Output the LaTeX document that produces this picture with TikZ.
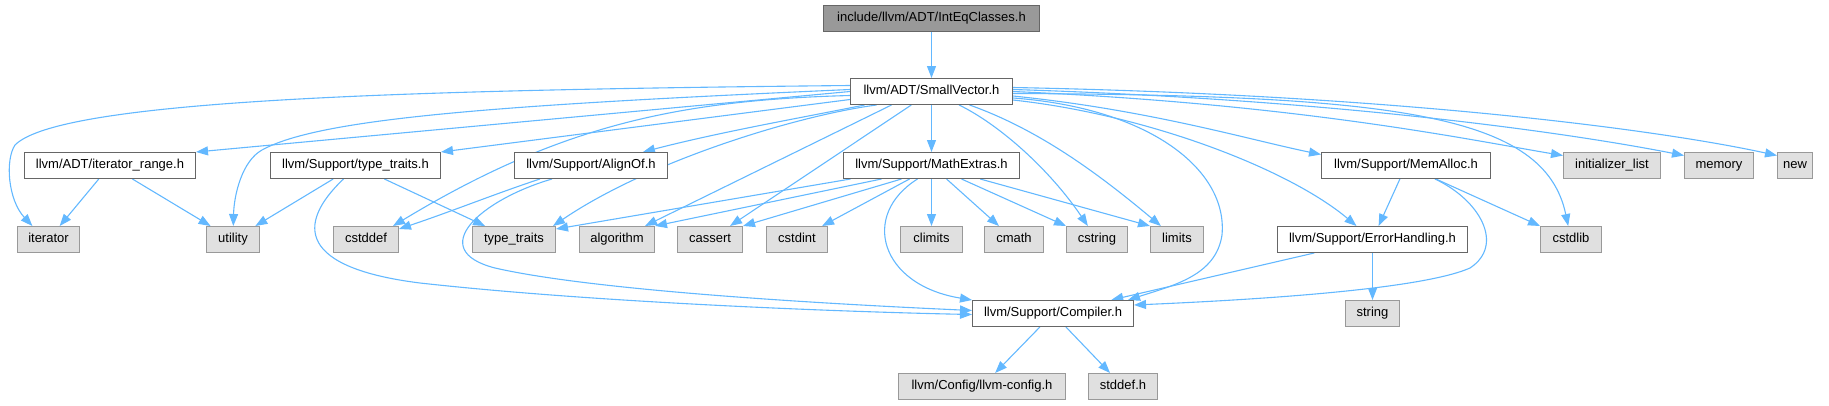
\documentclass[tikz,border=0pt]{standalone}
\usepackage{fontspec}
\setmainfont{Liberation Sans}
\usetikzlibrary{arrows.meta}
\pgfdeclarelayer{edgelayer}
\pgfsetlayers{edgelayer,main}
\definecolor{edgec}{HTML}{63B8FF}
\definecolor{bordn}{HTML}{666666}
\definecolor{bordx}{HTML}{999999}
\definecolor{fillx}{HTML}{E0E0E0}
\definecolor{fillh}{HTML}{999999}
\tikzset{
  box/.style={rectangle, inner sep=0pt, minimum height=26pt, line width=1pt,
    font=\fontsize{13pt}{15pt}\selectfont, text height=9.4pt, text depth=2.8pt},
  hdrbox/.style={box, draw=bordn, fill=fillh},
  docbox/.style={box, draw=bordn, fill=white},
  extbox/.style={box, draw=bordx, fill=fillx},
  dep/.style={draw=edgec, line width=1.1pt, -{Triangle[length=12pt,width=9pt]}}
}
\begin{document}
\begin{tikzpicture}[x=1pt,y=-1pt]
\useasboundingbox (0,0) rectangle (1829,405);
% row 0 / 1
\node[hdrbox, minimum width=216pt] (top) at (931.5,18.5) {include/llvm/ADT/IntEqClasses.h};
\node[docbox, minimum width=162pt] (sv) at (931.5,91.5) {llvm/ADT/SmallVector.h};
% row 2
\node[docbox, minimum width=171pt] (itr) at (110,165.5) {llvm/ADT/iterator\_range.h};
\node[docbox, minimum width=170pt] (tth) at (355.5,165.5) {llvm/Support/type\_traits.h};
\node[docbox, minimum width=153pt] (align) at (591,165.5) {llvm/Support/AlignOf.h};
\node[docbox, minimum width=176pt] (math) at (931.5,165.5) {llvm/Support/MathExtras.h};
\node[docbox, minimum width=169pt] (memalloc) at (1406,165.5) {llvm/Support/MemAlloc.h};
\node[extbox, minimum width=97pt] (initlist) at (1612,165.5) {initializer\_list};
\node[extbox, minimum width=69pt] (memory) at (1719,165.5) {memory};
\node[extbox, minimum width=35pt] (new) at (1795,165.5) {new};
% row 3
\node[extbox, minimum width=62pt] (iterator) at (48.5,239.5) {iterator};
\node[extbox, minimum width=53pt] (utility) at (233,239.5) {utility};
\node[extbox, minimum width=65pt] (cstddef) at (366,239.5) {cstddef};
\node[extbox, minimum width=83pt] (typetraits) at (514,239.5) {type\_traits};
\node[extbox, minimum width=75pt] (algorithm) at (617,239.5) {algorithm};
\node[extbox, minimum width=65pt] (cassert) at (710,239.5) {cassert};
\node[extbox, minimum width=61pt] (cstdint) at (797,239.5) {cstdint};
\node[extbox, minimum width=62pt] (climits) at (931.5,239.5) {climits};
\node[extbox, minimum width=59pt] (cmath) at (1014,239.5) {cmath};
\node[extbox, minimum width=61pt] (cstring) at (1097,239.5) {cstring};
\node[extbox, minimum width=53pt] (limits) at (1177,239.5) {limits};
\node[docbox, minimum width=190pt] (errh) at (1372.5,239.5) {llvm/Support/ErrorHandling.h};
\node[extbox, minimum width=61pt] (cstdlib) at (1571,239.5) {cstdlib};
% row 4
\node[docbox, minimum width=161pt] (compiler) at (1053,313.5) {llvm/Support/Compiler.h};
\node[extbox, minimum width=54pt] (string) at (1372.5,313.5) {string};
% row 5
\node[extbox, minimum width=167pt] (llvmconfig) at (982,386.5) {llvm/Config/llvm-config.h};
\node[extbox, minimum width=69pt] (stddef) at (1123,386.5) {stddef.h};

\begin{pgfonlayer}{edgelayer}
\draw[dep] (top) -- (sv);
% from SmallVector, left side
\draw[dep] ([yshift=6pt]sv.west) .. controls (400,90) and (60,100) .. (15,145) .. controls (5,160) and (8,200) .. (iterator.140);
\draw[dep] ([yshift=2pt]sv.west) .. controls (500,105) and (320,118) .. (262,150) .. controls (242,161) and (234,195) .. (utility);
\draw[dep] (sv.west) -- (itr.north east);
\draw[dep] ([yshift=-8pt]sv.west) -- (tth.north east);
\draw[dep] ([yshift=-4pt]sv.west) .. controls (680,100) and (560,125) .. ([xshift=-6pt]cstddef.north east);
\draw[dep] (sv) .. controls (800,118) and (720,132) .. (align);
\draw[dep] ([xshift=-55pt]sv.south) .. controls (800,115) and (650,160) .. ([xshift=-3pt]typetraits.north east);
\draw[dep] ([xshift=-40pt]sv.south) -- ([xshift=-10pt]algorithm.north east);
\draw[dep] (sv) -- ([xshift=20pt]cassert.north);
\draw[dep] (sv) -- (math);
\draw[dep] (sv) .. controls (1000,125) and (1050,170) .. (cstring);
\draw[dep] (sv) .. controls (1040,130) and (1100,175) .. (limits);
% from SmallVector, right side
\draw[dep] ([yshift=4pt]sv.east) .. controls (1400,95) and (1660,130) .. ([yshift=10pt]new.west);
\draw[dep] ([yshift=2pt]sv.east) .. controls (1350,100) and (1580,135) .. ([yshift=10pt]memory.west);
\draw[dep] (sv.east) .. controls (1300,104) and (1470,140) .. ([yshift=10pt]initlist.west);
\draw[dep] ([yshift=-2pt]sv.east) .. controls (1400,95) and (1545,115) .. (cstdlib);
\draw[dep] ([yshift=-4.5pt]sv.east) .. controls (1150,110) and (1250,140) .. ([yshift=11pt]memalloc.west);
\draw[dep] ([yshift=-6.5pt]sv.east) .. controls (1150,108) and (1228,170) .. (1222,235) .. controls (1216,275) and (1175,285) .. ([xshift=-6pt]compiler.north east);
\draw[dep] ([yshift=-8.5pt]sv.east) .. controls (1150,115) and (1290,170) .. (errh);
% iterator_range
\draw[dep] (itr) -- (iterator);
\draw[dep] (itr) -- (utility);
% type_traits.h
\draw[dep] (tth) -- (utility);
\draw[dep] (tth) -- (typetraits);
\draw[dep] ([xshift=-12pt]tth.south) .. controls (295,225) and (300,268) .. (420,283) .. controls (600,303) and (850,312) .. ([yshift=-1pt]compiler.west);
% AlignOf
\draw[dep] ([xshift=-51pt]align.south) .. controls (500,192) and (450,212) .. ([yshift=-3pt]cstddef.north east);
\draw[dep] ([xshift=-39pt]align.south) .. controls (480,200) and (425,250) .. (495,268) .. controls (600,292) and (850,305) .. ([yshift=3pt]compiler.west);
% MathExtras
\draw[dep] ([xshift=-81pt]math.south) -- ([yshift=-3pt]typetraits.north east);
\draw[dep] ([xshift=-50pt]math.south) -- (algorithm.north east);
\draw[dep] ([xshift=-30pt]math.south) -- (cassert.north east);
\draw[dep] ([xshift=-22pt]math.south) -- (cstdint);
\draw[dep] ([xshift=-14pt]math.south) .. controls (860,215) and (880,285) .. (compiler.north west);
\draw[dep] (math) -- (climits);
\draw[dep] (math) -- (cmath);
\draw[dep] (math) -- (cstring.north west);
\draw[dep] (math) -- (limits.north west);
% MemAlloc
\draw[dep] (memalloc) -- (errh);
\draw[dep] (memalloc) -- (cstdlib.north west);
\draw[dep] (memalloc) .. controls (1480,200) and (1505,245) .. (1470,268) .. controls (1420,290) and (1250,300) .. ([yshift=-5pt]compiler.north east);
% ErrorHandling
\draw[dep] (errh) -- (compiler);
\draw[dep] (errh) -- (string);
% Compiler
\draw[dep] (compiler) -- (llvmconfig);
\draw[dep] (compiler) -- (stddef);
\end{pgfonlayer}
\end{tikzpicture}
\end{document}
